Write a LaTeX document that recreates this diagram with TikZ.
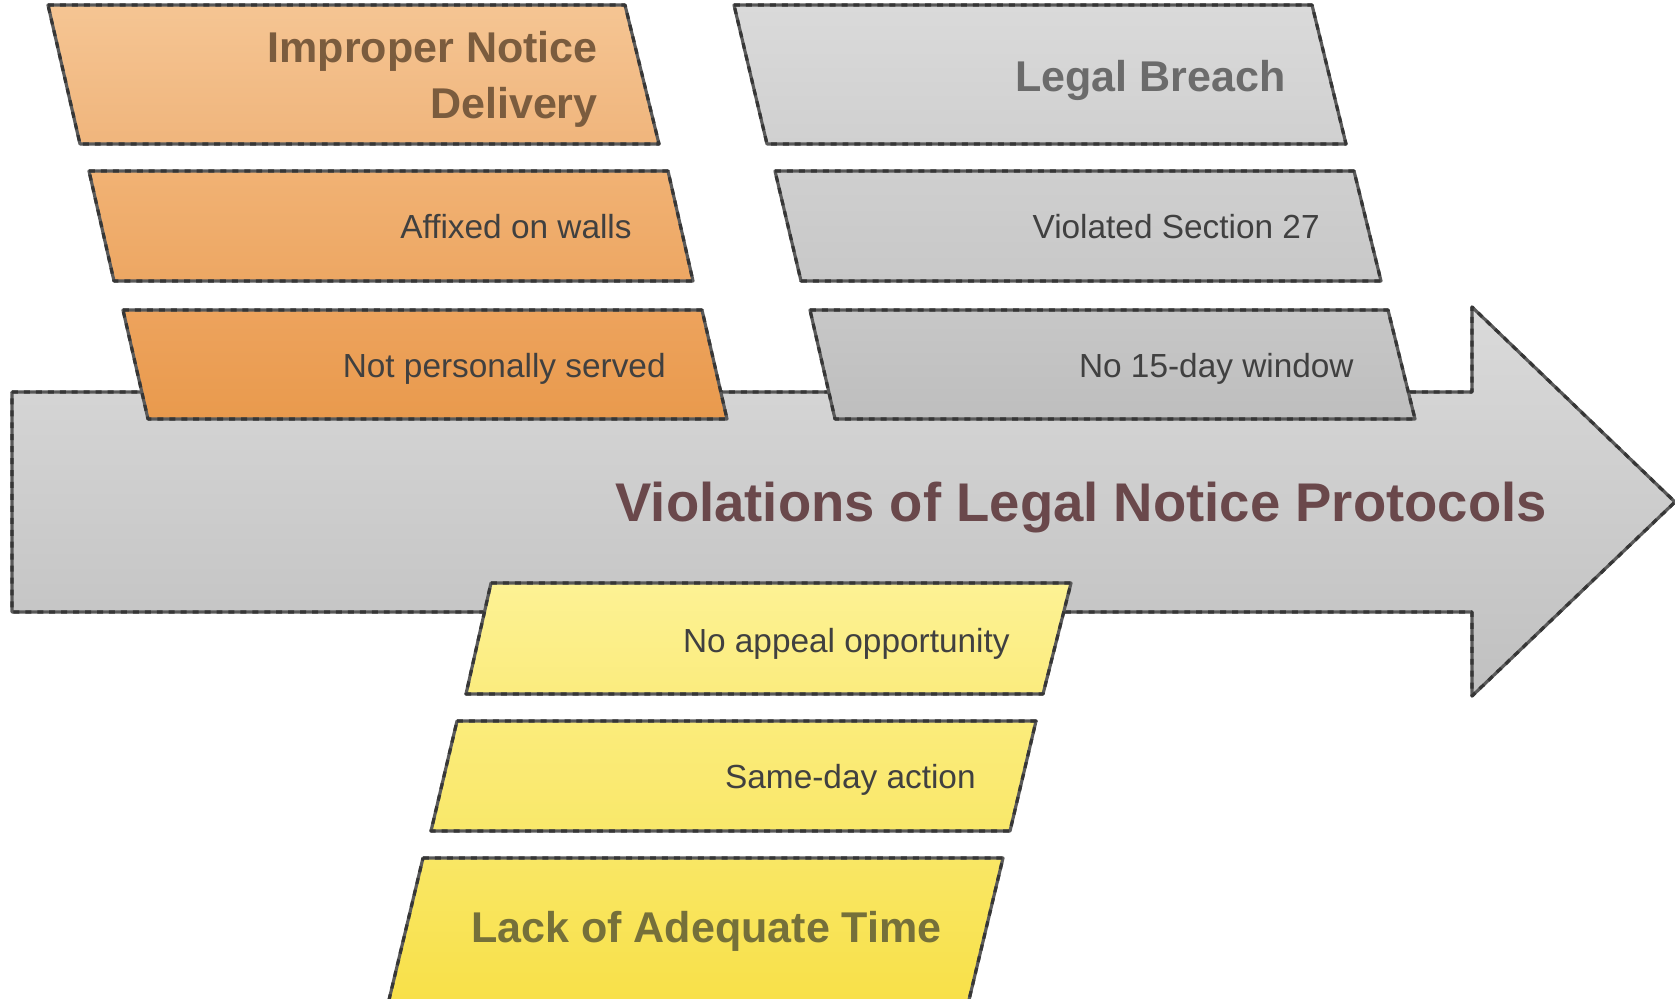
\documentclass[tikz,border=0pt]{standalone}
\usepackage{fontspec}
\setmainfont{Liberation Sans}
\usepackage{tikz}

\definecolor{edgegray}{HTML}{5A5A5A}
\definecolor{edgedark}{HTML}{363636}
\definecolor{itemgray}{HTML}{404040}
\definecolor{orangehead}{HTML}{7B5C3E}
\definecolor{grayhead}{HTML}{6B6B6B}
\definecolor{yellowhead}{HTML}{75703A}
\definecolor{mainhead}{HTML}{6A484B}

\begin{document}
\begin{tikzpicture}[x=0.02cm, y=-0.02cm,
  edge/.style={draw=edgegray, line width=1.8pt, line join=round,
    postaction={draw=edgedark, line width=1.8pt, dash pattern=on 3.4pt off 3.4pt}},
  item/.style={anchor=mid east, inner sep=0pt, text=itemgray, font=\fontsize{19}{23}\selectfont},
  head/.style={anchor=mid east, inner sep=0pt, align=right, font=\bfseries\fontsize{24.5}{32}\selectfont}]

\useasboundingbox (0,0) rectangle (1675,998);

% spine arrow
\draw [edge, top color={rgb,255:red,218;green,218;blue,218}, bottom color={rgb,255:red,192;green,192;blue,192}]
  (12,392) -- (1472,392) -- (1472,307) -- (1675,502) -- (1472,696) -- (1472,612) -- (12,612) -- cycle;
\node [anchor=mid east, inner sep=0pt, text=mainhead, font=\bfseries\fontsize{31}{36}\selectfont]
  (spine) at (1547,517) {Violations of Legal Notice Protocols};

% -------- Improper notice delivery -----------
\draw [edge, top color={rgb,255:red,245;green,197;blue,147}, bottom color={rgb,255:red,240;green,181;blue,124}]
  (48,5) -- (625,5) -- (659,144) -- (80,144) -- cycle;
\node [head, text=orangehead] (delivery) at (598,114) {Improper Notice\\Delivery};

\draw [edge, top color={rgb,255:red,241;green,178;blue,116}, bottom color={rgb,255:red,237;green,167;blue,99}]
  (89,171) -- (668,171) -- (693,281) -- (114,281) -- cycle;
\node [item] (walls) at (632,234) {Affixed on walls};

\draw [edge, top color={rgb,255:red,237;green,163;blue,93}, bottom color={rgb,255:red,233;green,154;blue,77}]
  (123,310) -- (702,310) -- (727,419) -- (148,419) -- cycle;
\node [item] (served) at (666,373) {Not personally served};

% -------- Legal breach -----------
\draw [edge, top color={rgb,255:red,218;green,218;blue,218}, bottom color={rgb,255:red,208;green,208;blue,208}]
  (734,5) -- (1312,5) -- (1346,144) -- (767,144) -- cycle;
\node [head, text=grayhead] (breach) at (1286,87) {Legal Breach};

\draw [edge, top color={rgb,255:red,207;green,207;blue,207}, bottom color={rgb,255:red,200;green,200;blue,200}]
  (775,171) -- (1354,171) -- (1381,281) -- (801,281) -- cycle;
\node [item] (section) at (1320,234) {Violated Section 27};

\draw [edge, top color={rgb,255:red,199;green,199;blue,199}, bottom color={rgb,255:red,190;green,190;blue,190}]
  (810,310) -- (1388,310) -- (1415,419) -- (835,419) -- cycle;
\node [item] (window) at (1354,373) {No 15-day window};

% -------- Lack of adequate time -----------
\draw [edge, top color={rgb,255:red,253;green,242;blue,148}, bottom color={rgb,255:red,251;green,236;blue,126}]
  (491,583) -- (1071,583) -- (1043,694) -- (466,694) -- cycle;
\node [item] (appeal) at (1010,648) {No appeal opportunity};

\draw [edge, top color={rgb,255:red,251;green,236;blue,123}, bottom color={rgb,255:red,249;green,232;blue,106}]
  (457,721) -- (1036,721) -- (1010,831) -- (431,831) -- cycle;
\node [item] (sameday) at (976,784) {Same-day action};

\draw [edge, top color={rgb,255:red,249;green,231;blue,101}, bottom color={rgb,255:red,248;green,224;blue,72}]
  (423,858) -- (1003,858) -- (968,1004) -- (388,1004) -- cycle;
\node [head, text=yellowhead] (time) at (942,938) {Lack of Adequate Time};

\end{tikzpicture}
\end{document}
